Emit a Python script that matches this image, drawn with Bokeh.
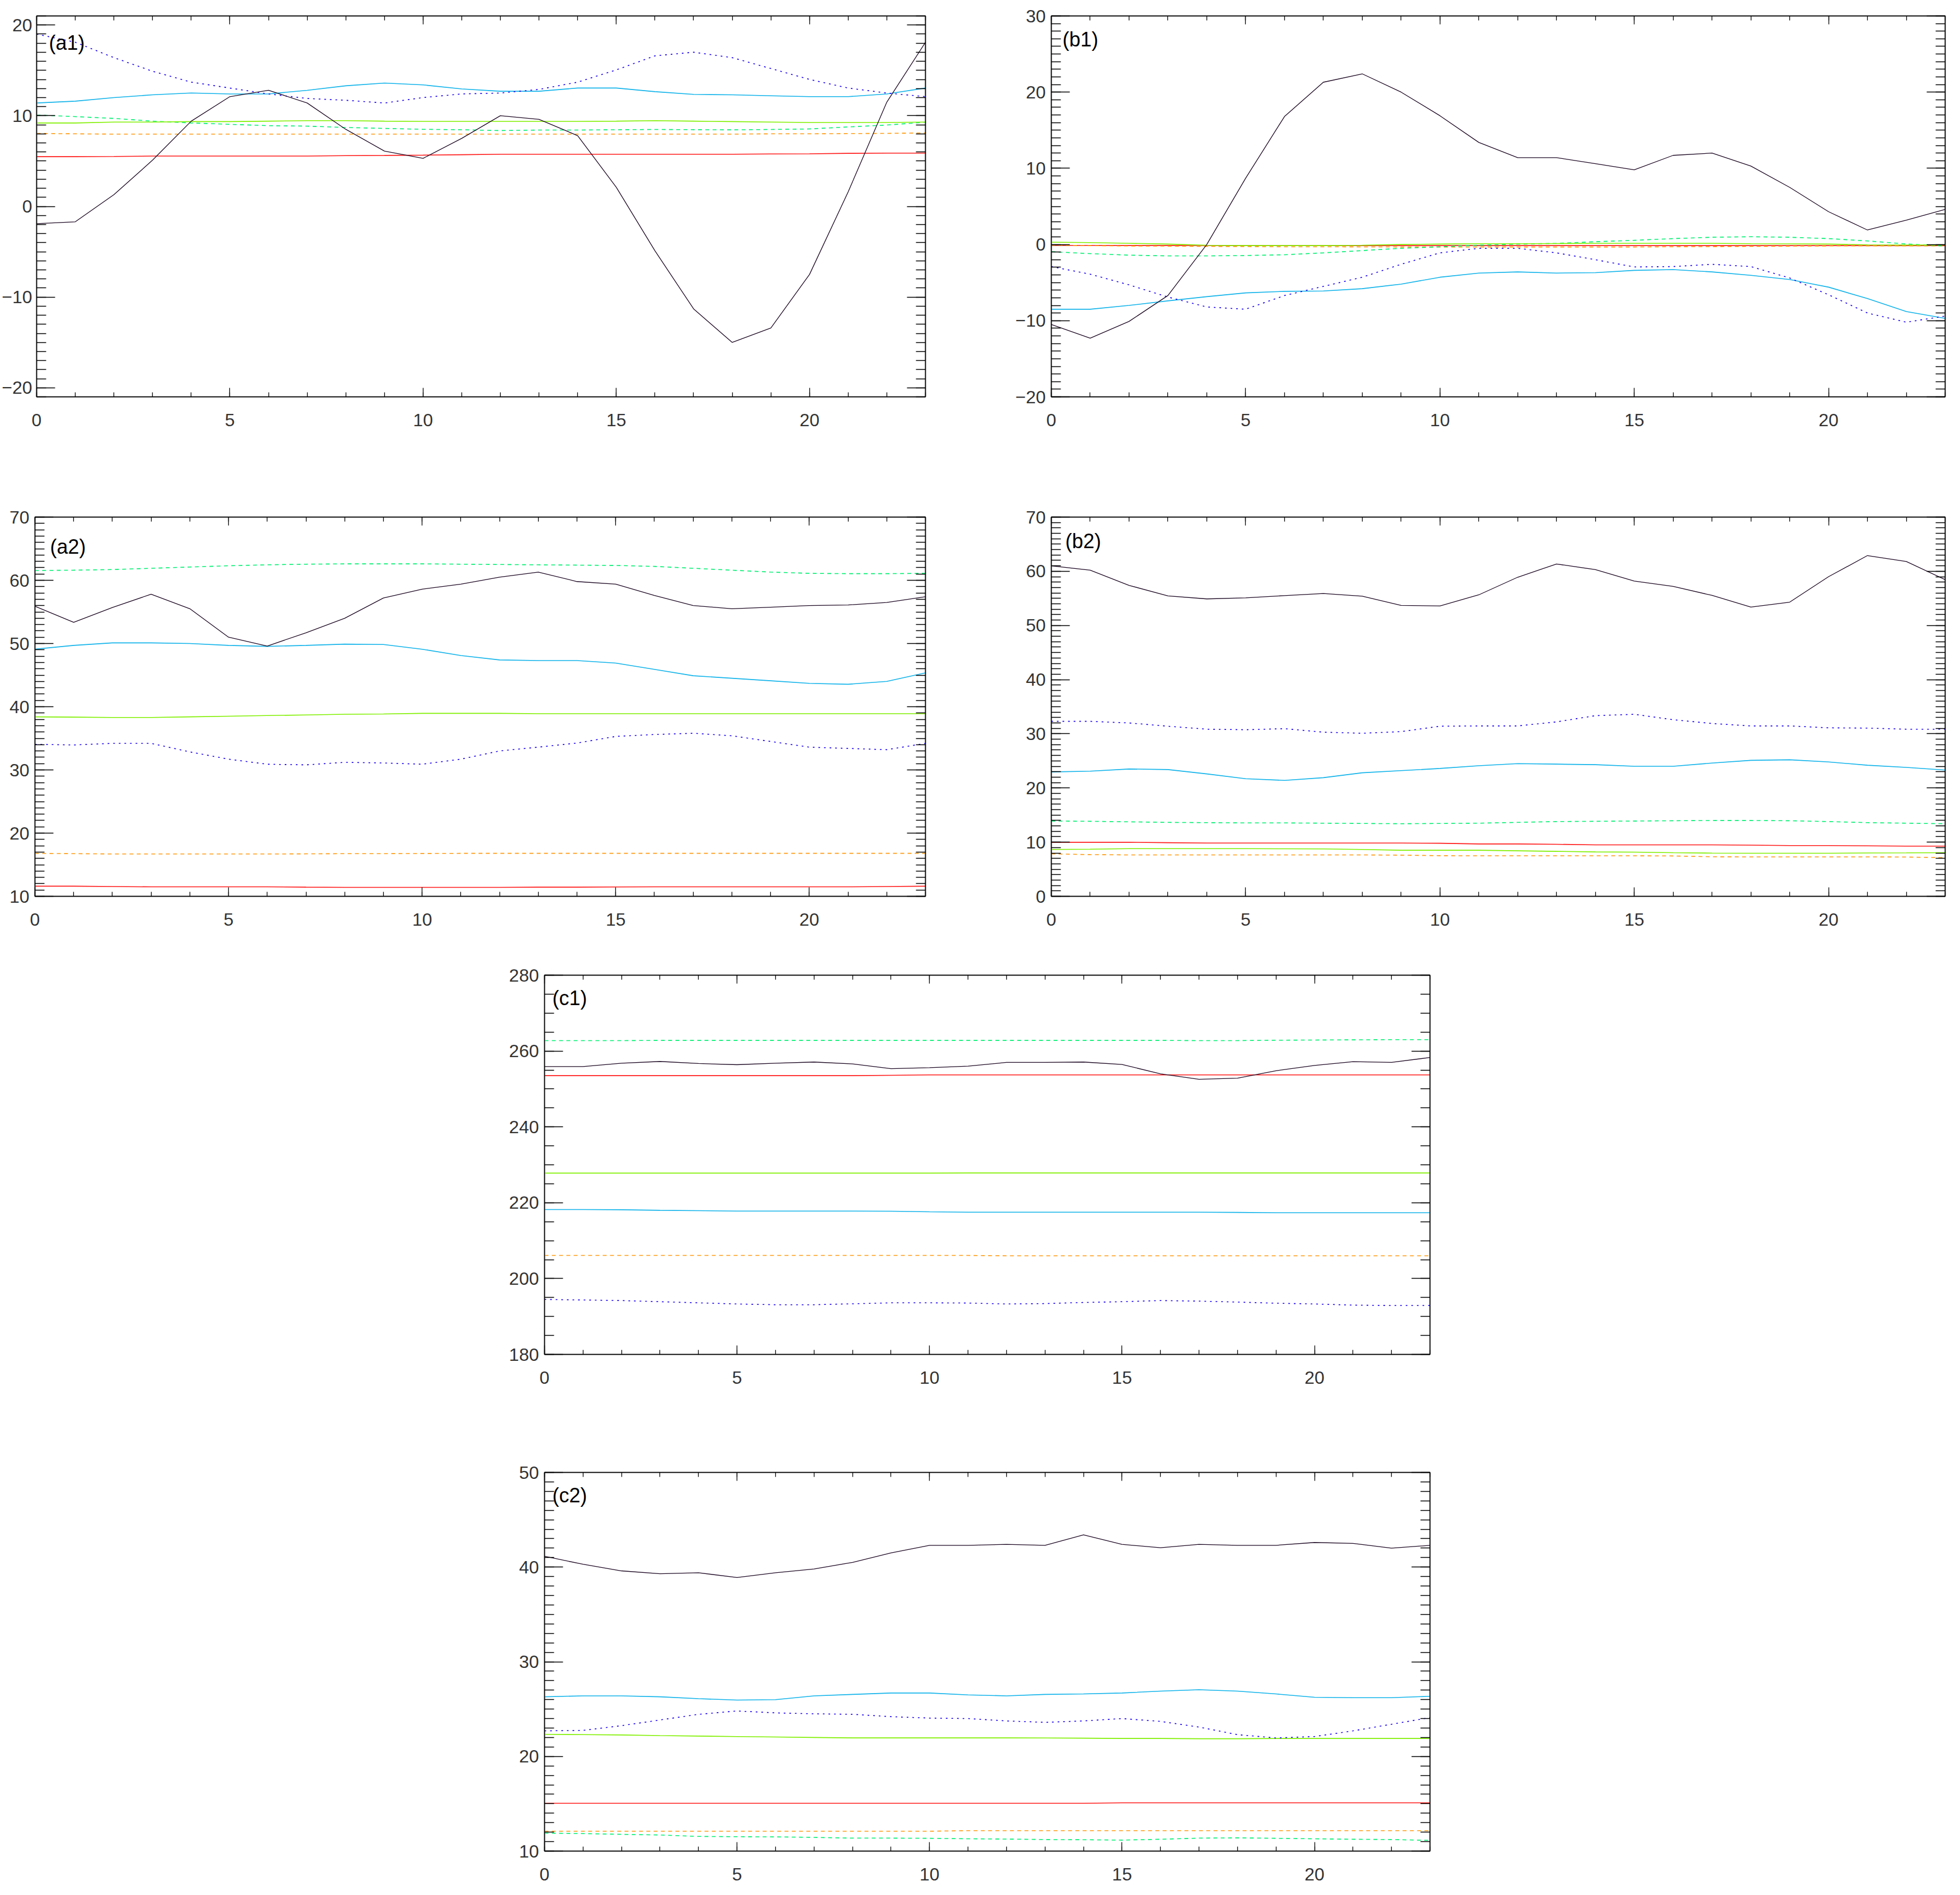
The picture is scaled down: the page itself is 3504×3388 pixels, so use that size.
from bokeh.plotting import figure
from bokeh.layouts import column, row
from bokeh.models import LinearAxis, FixedTicker, Range1d, Label
from bokeh.embed import file_html
from bokeh.resources import INLINE

# ---------------- data ----------------
hours = list(range(24))
x_major = [0, 5, 10, 15, 20]
x_minor = list(range(24))

# (a1)
a1_black = [-1.9, -1.7, 1.3, 5.1, 9.4, 12.1, 12.8, 11.4, 8.5, 6.1, 5.3, 7.5, 10.0, 9.6, 7.8, 2.1, -4.9, -11.3, -15.0, -13.4, -7.5, 1.6, 11.5, 18.1]
a1_blue = [19.0, 18.1, 16.4, 14.9, 13.7, 13.05, 12.4, 11.9, 11.7, 11.4, 12.0, 12.4, 12.5, 12.9, 13.7, 15.05, 16.6, 17.0, 16.4, 15.2, 14.0, 13.05, 12.5, 12.1]
a1_cyan = [11.4, 11.6, 12.0, 12.3, 12.5, 12.4, 12.4, 12.8, 13.3, 13.6, 13.4, 12.95, 12.7, 12.7, 13.05, 13.05, 12.65, 12.35, 12.3, 12.2, 12.1, 12.1, 12.4, 13.05]
a1_lime = [9.2, 9.2, 9.3, 9.3, 9.35, 9.35, 9.4, 9.45, 9.45, 9.4, 9.37, 9.37, 9.37, 9.37, 9.37, 9.4, 9.45, 9.4, 9.35, 9.3, 9.25, 9.25, 9.25, 9.3]
a1_spring = [10.07, 9.9, 9.7, 9.4, 9.2, 9.05, 8.9, 8.85, 8.7, 8.6, 8.5, 8.45, 8.36, 8.42, 8.42, 8.45, 8.48, 8.46, 8.44, 8.48, 8.54, 8.76, 8.97, 9.28]
a1_orange = [8.05, 8.0, 7.97, 7.97, 7.97, 7.97, 7.97, 7.97, 7.97, 7.97, 7.97, 7.97, 7.97, 7.97, 7.97, 7.97, 7.97, 7.97, 7.97, 8.0, 8.0, 8.03, 8.05, 8.1]
a1_red = [5.48, 5.48, 5.5, 5.55, 5.55, 5.55, 5.55, 5.55, 5.6, 5.62, 5.65, 5.7, 5.75, 5.75, 5.75, 5.75, 5.75, 5.75, 5.75, 5.78, 5.8, 5.85, 5.87, 5.87]

# (b1)
b1_black = [-10.5, -12.3, -10.1, -6.7, 0.0, 8.7, 16.8, 21.3, 22.4, 20.0, 16.9, 13.4, 11.4, 11.4, 10.6, 9.8, 11.7, 12.0, 10.3, 7.5, 4.3, 1.9, 3.2, 4.6]
b1_blue = [-2.9, -3.9, -5.3, -6.9, -8.2, -8.5, -6.7, -5.5, -4.3, -2.6, -1.1, -0.5, -0.5, -1.1, -2.0, -2.95, -2.9, -2.6, -2.9, -4.4, -6.6, -9.0, -10.2, -9.4]
b1_cyan = [-8.5, -8.5, -8.0, -7.4, -6.85, -6.35, -6.15, -6.1, -5.8, -5.2, -4.3, -3.75, -3.6, -3.75, -3.7, -3.4, -3.3, -3.6, -4.05, -4.6, -5.6, -7.1, -8.8, -9.7]
b1_lime = [0.3, 0.25, 0.15, 0.05, -0.1, -0.15, -0.15, -0.15, -0.1, 0.0, 0.05, 0.1, 0.1, 0.12, 0.15, 0.15, 0.15, 0.15, 0.1, 0.08, 0.05, -0.05, -0.07, -0.07]
b1_spring = [-0.95, -1.2, -1.4, -1.5, -1.5, -1.45, -1.35, -1.1, -0.8, -0.5, -0.3, -0.1, 0.04, 0.15, 0.36, 0.55, 0.77, 0.95, 1.02, 0.95, 0.77, 0.47, 0.07, -0.2]
b1_orange = [-0.1, -0.15, -0.2, -0.22, -0.25, -0.27, -0.3, -0.3, -0.32, -0.33, -0.33, -0.33, -0.33, -0.33, -0.33, -0.33, -0.3, -0.28, -0.25, -0.22, -0.2, -0.2, -0.2, -0.2]
b1_red = [-0.12, -0.12, -0.13, -0.13, -0.14, -0.15, -0.15, -0.15, -0.15, -0.15, -0.15, -0.15, -0.15, -0.15, -0.15, -0.15, -0.15, -0.15, -0.15, -0.15, -0.15, -0.15, -0.15, -0.15]

# (a2)
a2_black = [55.9, 53.35, 55.7, 57.8, 55.5, 51.0, 49.6, 51.7, 54.0, 57.2, 58.6, 59.4, 60.5, 61.3, 59.8, 59.4, 57.6, 56.0, 55.5, 55.75, 56.0, 56.1, 56.5, 57.4]
a2_blue = [34.05, 33.95, 34.2, 34.2, 32.85, 31.7, 30.9, 30.8, 31.2, 31.1, 30.9, 31.7, 33.0, 33.6, 34.25, 35.3, 35.6, 35.8, 35.4, 34.5, 33.6, 33.4, 33.2, 34.2]
a2_cyan = [49.1, 49.7, 50.1, 50.1, 50.0, 49.7, 49.55, 49.7, 49.9, 49.85, 49.1, 48.1, 47.4, 47.3, 47.3, 46.9, 45.9, 44.9, 44.5, 44.1, 43.7, 43.55, 44.0, 45.35]
a2_lime = [38.4, 38.35, 38.3, 38.3, 38.4, 38.5, 38.6, 38.7, 38.8, 38.85, 38.95, 38.95, 38.95, 38.9, 38.9, 38.9, 38.9, 38.9, 38.9, 38.9, 38.9, 38.9, 38.9, 38.9]
a2_spring = [61.55, 61.6, 61.7, 61.9, 62.1, 62.3, 62.45, 62.55, 62.6, 62.6, 62.6, 62.55, 62.5, 62.45, 62.4, 62.35, 62.2, 61.9, 61.6, 61.3, 61.1, 61.05, 61.05, 61.1]
a2_orange = [16.8, 16.75, 16.7, 16.7, 16.7, 16.7, 16.7, 16.72, 16.75, 16.75, 16.78, 16.8, 16.8, 16.8, 16.8, 16.8, 16.8, 16.8, 16.8, 16.8, 16.8, 16.8, 16.8, 16.8]
a2_red = [11.6, 11.6, 11.55, 11.5, 11.5, 11.5, 11.5, 11.45, 11.42, 11.42, 11.42, 11.42, 11.42, 11.45, 11.45, 11.48, 11.5, 11.5, 11.5, 11.5, 11.5, 11.5, 11.55, 11.6]

# (b2)
b2_black = [61.0, 60.2, 57.4, 55.45, 54.9, 55.1, 55.5, 55.9, 55.4, 53.7, 53.6, 55.65, 58.9, 61.35, 60.3, 58.2, 57.2, 55.55, 53.4, 54.3, 59.0, 62.9, 61.8, 58.45]
b2_blue = [32.3, 32.3, 32.0, 31.4, 30.85, 30.75, 30.95, 30.3, 30.1, 30.4, 31.4, 31.45, 31.45, 32.2, 33.35, 33.6, 32.6, 31.9, 31.45, 31.45, 31.1, 31.05, 30.85, 30.85]
b2_cyan = [22.96, 23.1, 23.5, 23.4, 22.6, 21.7, 21.4, 21.9, 22.8, 23.2, 23.6, 24.1, 24.5, 24.4, 24.3, 24.0, 24.0, 24.6, 25.1, 25.2, 24.8, 24.2, 23.8, 23.3]
b2_lime = [8.65, 8.7, 8.8, 8.8, 8.8, 8.8, 8.78, 8.75, 8.65, 8.5, 8.5, 8.5, 8.4, 8.3, 8.2, 8.15, 8.05, 7.98, 7.95, 7.95, 7.95, 8.0, 8.02, 8.05]
b2_spring = [13.9, 13.85, 13.75, 13.65, 13.6, 13.55, 13.55, 13.5, 13.45, 13.4, 13.45, 13.5, 13.65, 13.8, 13.85, 13.9, 13.95, 14.0, 14.0, 13.95, 13.8, 13.6, 13.5, 13.4]
b2_orange = [7.84, 7.7, 7.64, 7.64, 7.64, 7.64, 7.64, 7.64, 7.64, 7.6, 7.5, 7.48, 7.48, 7.48, 7.48, 7.48, 7.45, 7.3, 7.28, 7.28, 7.28, 7.28, 7.25, 7.13]
b2_red = [9.98, 9.98, 9.98, 9.9, 9.83, 9.83, 9.83, 9.83, 9.83, 9.83, 9.8, 9.67, 9.67, 9.6, 9.5, 9.5, 9.5, 9.5, 9.45, 9.37, 9.37, 9.32, 9.27, 9.27]

# (c1)
c1_black = [255.9, 255.9, 256.8, 257.25, 256.7, 256.4, 256.8, 257.1, 256.6, 255.35, 255.6, 256.0, 257.0, 257.0, 257.1, 256.45, 254.0, 252.55, 252.85, 254.8, 256.2, 257.2, 257.0, 258.3]
c1_blue = [194.5, 194.35, 194.2, 193.9, 193.6, 193.3, 193.1, 193.1, 193.35, 193.6, 193.6, 193.55, 193.3, 193.4, 193.7, 193.9, 194.2, 194.05, 193.8, 193.5, 193.3, 193.0, 192.9, 192.9]
c1_cyan = [218.2, 218.2, 218.15, 218.0, 217.9, 217.8, 217.8, 217.8, 217.8, 217.75, 217.6, 217.5, 217.5, 217.5, 217.5, 217.5, 217.5, 217.5, 217.45, 217.35, 217.35, 217.35, 217.35, 217.35]
c1_lime = [227.8, 227.8, 227.8, 227.8, 227.8, 227.8, 227.8, 227.8, 227.8, 227.8, 227.8, 227.85, 227.85, 227.85, 227.85, 227.85, 227.85, 227.85, 227.85, 227.85, 227.85, 227.85, 227.85, 227.85]
c1_spring = [262.75, 262.75, 262.75, 262.8, 262.8, 262.8, 262.8, 262.8, 262.8, 262.8, 262.8, 262.8, 262.8, 262.8, 262.8, 262.8, 262.8, 262.75, 262.75, 262.85, 262.9, 262.95, 263.0, 263.0]
c1_orange = [206.1, 206.1, 206.1, 206.1, 206.1, 206.1, 206.1, 206.1, 206.1, 206.1, 206.1, 206.1, 206.0, 206.0, 206.0, 206.0, 206.0, 206.0, 206.0, 206.0, 206.0, 206.0, 206.0, 206.0]
c1_red = [253.5, 253.5, 253.5, 253.5, 253.5, 253.5, 253.5, 253.5, 253.5, 253.6, 253.7, 253.7, 253.7, 253.7, 253.7, 253.7, 253.7, 253.7, 253.7, 253.7, 253.7, 253.7, 253.7, 253.7]

# (c2)
c2_black = [41.14, 40.3, 39.6, 39.3, 39.4, 38.9, 39.4, 39.8, 40.5, 41.5, 42.3, 42.3, 42.4, 42.3, 43.4, 42.4, 42.05, 42.4, 42.3, 42.3, 42.6, 42.5, 42.0, 42.3]
c2_blue = [22.7, 22.75, 23.25, 23.85, 24.45, 24.8, 24.6, 24.5, 24.45, 24.2, 24.05, 24.0, 23.75, 23.6, 23.75, 24.0, 23.7, 23.1, 22.3, 21.95, 22.1, 22.7, 23.4, 24.1]
c2_cyan = [26.3, 26.4, 26.4, 26.3, 26.1, 25.95, 26.0, 26.4, 26.55, 26.7, 26.7, 26.5, 26.4, 26.55, 26.6, 26.7, 26.9, 27.05, 26.9, 26.6, 26.25, 26.2, 26.2, 26.35]
c2_lime = [22.33, 22.3, 22.27, 22.2, 22.15, 22.1, 22.05, 22.0, 21.96, 21.96, 21.96, 21.96, 21.96, 21.95, 21.93, 21.9, 21.9, 21.87, 21.87, 21.9, 21.9, 21.9, 21.9, 21.9]
c2_spring = [11.9, 11.85, 11.77, 11.7, 11.55, 11.52, 11.5, 11.45, 11.37, 11.37, 11.35, 11.3, 11.27, 11.22, 11.2, 11.16, 11.25, 11.37, 11.4, 11.35, 11.3, 11.25, 11.22, 11.13]
c2_orange = [12.1, 12.1, 12.1, 12.1, 12.1, 12.1, 12.1, 12.1, 12.1, 12.1, 12.1, 12.16, 12.16, 12.16, 12.16, 12.16, 12.16, 12.16, 12.16, 12.16, 12.16, 12.16, 12.16, 12.16]
c2_red = [15.05, 15.05, 15.05, 15.05, 15.05, 15.05, 15.05, 15.05, 15.05, 15.05, 15.05, 15.05, 15.05, 15.05, 15.05, 15.1, 15.1, 15.1, 15.1, 15.1, 15.1, 15.1, 15.1, 15.1]

# ---------------- style ----------------
FONT = "Liberation Sans"
TICK_COLOR = "#333333"
STYLES = {
    "red":    dict(color="#ff1a1a", line_width=1.6, line_dash="solid"),
    "orange": dict(color="#ff9a10", line_width=1.6, line_dash="7 6"),
    "spring": dict(color="#00f070", line_width=1.6, line_dash="7 6"),
    "lime":   dict(color="#80f000", line_width=1.6, line_dash="solid"),
    "cyan":   dict(color="#14b4ea", line_width=1.6, line_dash="solid"),
    "blue":   dict(color="#1a00f0", line_width=1.6, line_dash="3 7"),
    "black":  dict(color="#1e0a24", line_width=1.3, line_dash="solid"),
}
ORDER = ["red", "orange", "spring", "lime", "cyan", "blue", "black"]


def base_axis_style(ax):
    ax.axis_line_color = "black"
    ax.axis_line_width = 1.5
    ax.major_tick_line_color = "black"
    ax.major_tick_line_width = 1.3
    ax.minor_tick_line_color = "black"
    ax.minor_tick_line_width = 1.3
    ax.major_tick_out = 0
    ax.minor_tick_out = 0
    ax.axis_label = None


def label_axis(ax, ticks, minor, major_in, minor_in, standoff, overrides=None):
    ax.ticker = FixedTicker(ticks=ticks, minor_ticks=minor)
    base_axis_style(ax)
    ax.major_tick_in = major_in
    ax.minor_tick_in = minor_in
    ax.major_label_text_font = FONT
    ax.major_label_text_font_size = "32px"
    ax.major_label_text_color = TICK_COLOR
    ax.major_label_standoff = standoff
    if overrides:
        ax.major_label_overrides = overrides


def tick_only_axis(p, side, positions, length, draw_line):
    # an axis without major ticks (so without labels): its minor ticks mark the positions
    ax = LinearAxis(ticker=FixedTicker(ticks=[], minor_ticks=positions))
    base_axis_style(ax)
    ax.major_tick_in = 0
    ax.minor_tick_in = length
    ax.major_label_standoff = 0
    if not draw_line:
        ax.axis_line_color = None
    p.add_layout(ax, side)


def make_panel(series, label, yr, y_major, y_minor, width, height,
               b_left, b_right, b_top, b_bottom, lab_dx, lab_dy, y_standoff):
    p = figure(width=width, height=height, x_range=Range1d(0, 23), y_range=Range1d(*yr),
               output_backend="svg", toolbar_location=None,
               min_border_left=b_left, min_border_right=b_right,
               min_border_top=b_top, min_border_bottom=b_bottom)
    p.background_fill_color = "white"
    p.border_fill_color = "white"
    p.outline_line_color = "black"
    p.outline_line_width = 1.5
    p.xgrid.visible = False
    p.ygrid.visible = False

    overrides = {v: "\u2212" + str(abs(v)) for v in y_major if v < 0}

    label_axis(p.xaxis[0], x_major, x_minor, 16, 8, 30)
    label_axis(p.yaxis[0], y_major, y_minor, 33, 17, y_standoff, overrides)

    tick_only_axis(p, "above", x_minor, 8, True)
    tick_only_axis(p, "above", x_major, 15, False)
    tick_only_axis(p, "right", y_minor, 17, True)
    tick_only_axis(p, "right", y_major, 33, False)

    for key in ORDER:
        st = STYLES[key]
        p.line(hours, series[key], line_color=st["color"], line_width=st["line_width"],
               line_dash=st["line_dash"])

    frame_w = width - b_left - b_right
    frame_h = height - b_top - b_bottom
    px_x = frame_w / 23.0
    px_y = frame_h / float(yr[1] - yr[0])
    lab = Label(x=lab_dx / px_x, y=yr[1] - lab_dy / px_y, text=label,
                text_font=FONT, text_font_size="36px", text_color="black",
                text_align="left", text_baseline="top")
    p.add_layout(lab)
    return p


def pack(prefix):
    g = globals()
    return {k: g[prefix + "_" + k] for k in ORDER}


# row 1
pa1 = make_panel(pack("a1"), "(a1)", (-21, 21), [-20, -10, 0, 10, 20], list(range(-21, 22)),
                 1768, 808, 62, 114, 28, 99, 22, 27, 8)
pb1 = make_panel(pack("b1"), "(b1)", (-20, 30), [-20, -10, 0, 10, 20, 30], list(range(-20, 31)),
                 1736, 808, 111, 27, 28, 98, 20, 22, 10)
# row 2
pa2 = make_panel(pack("a2"), "(a2)", (10, 70), [10, 20, 30, 40, 50, 60, 70], list(range(10, 71)),
                 1768, 900, 62, 114, 113, 106, 27, 33, 10)
pb2 = make_panel(pack("b2"), "(b2)", (0, 70), [0, 10, 20, 30, 40, 50, 60, 70], list(range(0, 71)),
                 1736, 900, 111, 27, 116, 100, 25, 23, 10)
# row 3 / 4
pc1 = make_panel(pack("c1"), "(c1)", (180, 280), [180, 200, 220, 240, 260, 280], list(range(180, 281, 5)),
                 3504, 820, 973, 948, 35, 107, 14, 20, 10)
pc2 = make_panel(pack("c2"), "(c2)", (10, 50), [10, 20, 30, 40, 50], list(range(10, 51)),
                 3504, 856, 972, 948, 104, 75, 14, 20, 10)

layout = column(row(pa1, pb1, spacing=0), row(pa2, pb2, spacing=0), pc1, pc2, spacing=0)

open("out.html", "w").write(file_html(layout, INLINE))
